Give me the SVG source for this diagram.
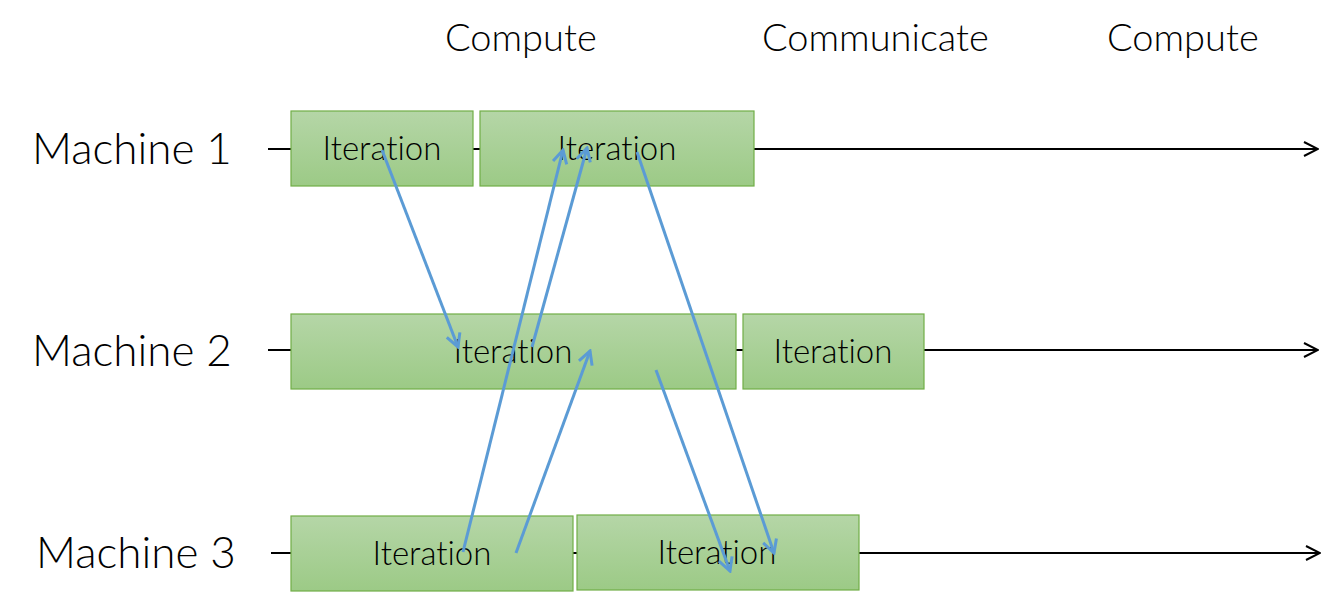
<svg xmlns="http://www.w3.org/2000/svg" width="1335" height="613" viewBox="0 0 1335 613">
<style>
.lbl{font-family:Lato,"Liberation Sans",sans-serif;font-weight:300;fill:#000;font-variant-ligatures:none}
.mach{font-size:44px}
.hdr{font-size:38px}
.it{font-size:33px;text-anchor:middle}
.box{fill:url(#g);stroke:#71AD47;stroke-width:1.2}
.tl{stroke:#000;stroke-width:2;fill:none;marker-end:url(#ak)}
.bl{stroke:#5B9BD5;stroke-width:3;fill:none;marker-end:url(#ab)}
</style>
<defs>
<linearGradient id="g" x1="0" y1="0" x2="0" y2="1">
<stop offset="0" stop-color="#B5D6A7"/>
<stop offset="1" stop-color="#9CCA86"/>
</linearGradient>
<marker id="ak" viewBox="0 0 20 20" refX="19" refY="10" markerWidth="20" markerHeight="20" markerUnits="userSpaceOnUse" orient="auto">
<path d="M5,3 L19,10 L5,17" fill="none" stroke="#000" stroke-width="2"/>
</marker>
<marker id="ab" viewBox="0 0 20 20" refX="18" refY="10" markerWidth="20" markerHeight="20" markerUnits="userSpaceOnUse" orient="auto">
<path d="M5,3 L18,10 L5,17" fill="none" stroke="#5B9BD5" stroke-width="3"/>
</marker>
</defs>
<rect width="1335" height="613" fill="#fff"/>
<g id="headers">
<text class="lbl hdr" x="445" y="51">Compute</text>
<text class="lbl hdr" x="762" y="51">Communicate</text>
<text class="lbl hdr" x="1107" y="51">Compute</text>
</g>
<g id="machine-labels">
<text class="lbl mach" x="32" y="164">Machine 1</text>
<text class="lbl mach" x="32" y="366">Machine 2</text>
<text class="lbl mach" x="36" y="568">Machine 3</text>
</g>
<g id="timelines">
<line class="tl" x1="268" y1="149" x2="1318" y2="149"/>
<line class="tl" x1="268" y1="350" x2="1318" y2="350"/>
<line class="tl" x1="271" y1="553" x2="1320" y2="553"/>
</g>
<g id="m1-it1"><rect class="box" x="291" y="111" width="182" height="75"/><text class="lbl it" x="382" y="160">Iteration</text></g>
<g id="m1-it2"><rect class="box" x="480" y="111" width="274" height="75"/><text class="lbl it" x="617" y="160">Iteration</text></g>
<g id="m2-it1"><rect class="box" x="291" y="314" width="445" height="75"/><text class="lbl it" x="513" y="363">Iteration</text></g>
<g id="m2-it2"><rect class="box" x="743" y="314" width="181" height="75"/><text class="lbl it" x="833" y="363">Iteration</text></g>
<g id="m3-it1"><rect class="box" x="291" y="516" width="282" height="75"/><text class="lbl it" x="432" y="565">Iteration</text></g>
<g id="m3-it2"><rect class="box" x="577" y="515" width="282" height="75"/><text class="lbl it" x="717" y="564">Iteration</text></g>
<g id="connectors">
<line class="bl" x1="382" y1="150" x2="458" y2="347"/>
<line class="bl" x1="463" y1="552" x2="563" y2="150"/>
<line class="bl" x1="532" y1="347" x2="587" y2="148"/>
<line class="bl" x1="516" y1="553" x2="590" y2="351"/>
<line class="bl" x1="637" y1="152" x2="774" y2="553"/>
<line class="bl" x1="656" y1="370" x2="730" y2="571"/>
</g>
</svg>
